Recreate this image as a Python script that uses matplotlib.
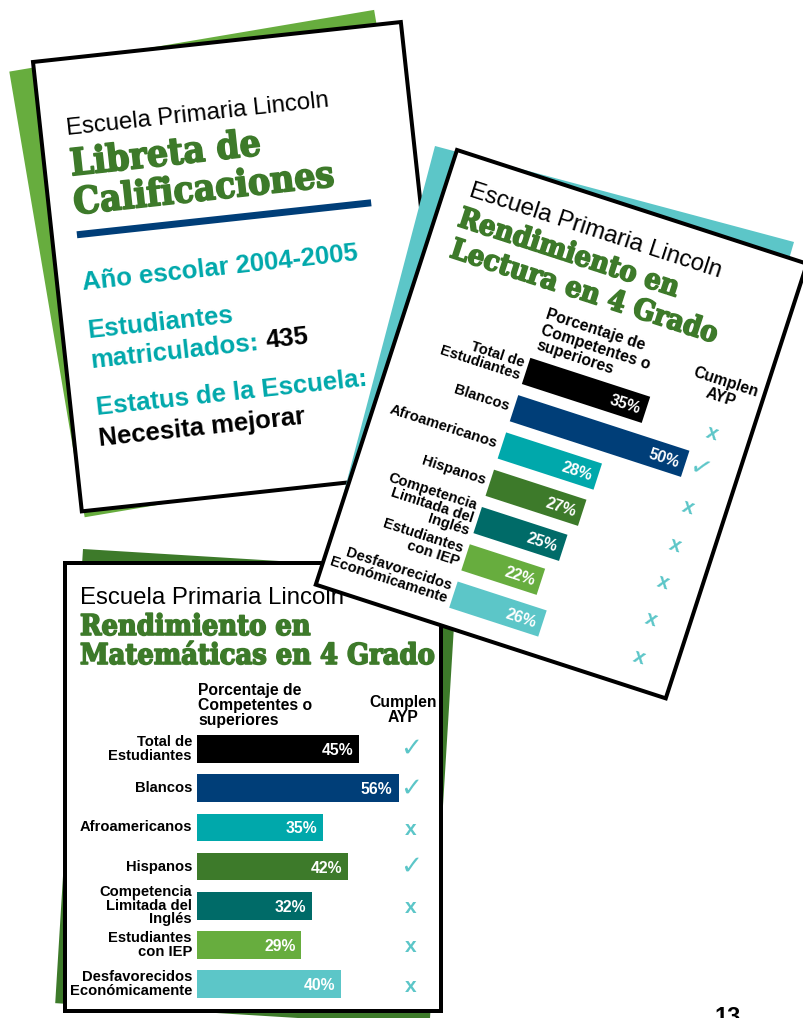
import matplotlib
matplotlib.use("Agg")
import matplotlib.pyplot as plt
import matplotlib.patheffects as pe
from matplotlib.patches import Rectangle, Polygon
from matplotlib.transforms import Affine2D

SANS = "Liberation Sans"
SERIF = "DejaVu Serif"

BLACK = "#000000"
NAVY = "#003e78"
TEAL = "#00a8ab"
DKGREEN = "#3d7a2a"
DKTEAL = "#006b68"
LTGREEN = "#67ad3e"
LTTEAL = "#5cc6c8"

# data
groups = ["Total de\nEstudiantes", "Blancos", "Afroamericanos", "Hispanos",
          "Competencia\nLimitada del\nInglés", "Estudiantes\ncon IEP",
          "Desfavorecidos\nEconómicamente"]
bar_colors = [BLACK, NAVY, TEAL, DKGREEN, DKTEAL, LTGREEN, LTTEAL]
reading_pct = [35, 50, 28, 27, 25, 22, 26]
reading_ayp = [False, True, False, False, False, False, False]
math_pct = [45, 56, 35, 42, 32, 29, 40]
math_ayp = [True, True, False, True, False, False, False]

school = "Escuela Primaria Lincoln"
school_year = "2004-2005"
enrolled = 435
status = "Necesita mejorar"
header = ["Porcentaje de", "Competentes o", "superiores"]
page_number = "13"

PX = 72 / 100  # points per pixel

fig = plt.figure(figsize=(8.04, 10.18), dpi=100)
ax = fig.add_axes([0, 0, 1, 1])
ax.set_xlim(0, 804)
ax.set_ylim(1018, 0)
ax.axis("off")


def card(x0, y0, angle):
    # local card coords (pixels, y down) -> page coords
    return Affine2D().rotate_deg(angle).translate(x0, y0)


def sheet(tf, w, h, color, z, border=True):
    ax.add_patch(Rectangle((0, 0), w, h, transform=tf + ax.transData,
                           facecolor=color, edgecolor="black" if border else "none",
                           linewidth=4 * PX if border else 0, joinstyle="miter", zorder=z))


def put(tf, angle, u, v, s, z, **kw):
    x, y = tf.transform((u, v))
    kw.setdefault("va", "baseline")
    kw.setdefault("ha", "left")
    kw.setdefault("family", SANS)
    ax.text(x, y, s, rotation=-angle, rotation_mode="anchor", zorder=z, **kw)


def title(tf, angle, u, v, s, z, size):
    # condensed DejaVu Serif Bold + a thin stroke, close to the heavy slab face
    put(tf, angle, u, v, s, z, family=SERIF, fontweight="bold", fontstretch="condensed",
        fontsize=size, color=DKGREEN,
        path_effects=[pe.withStroke(linewidth=1.2, foreground=DKGREEN)])


def chart(tf, angle, lay, pct, ayp, z):
    put(tf, angle, lay["school"][0], lay["school"][1], school, z, fontsize=17.3)
    for (u, v), s in zip(lay["title"], lay["title_txt"]):
        title(tf, angle, u, v, s, z, 20.7)
    for v, s in zip(lay["head_v"], header):
        put(tf, angle, lay["head_u"], v, s, z, fontsize=11.3, fontweight="bold")
    for v, s in zip(lay["ayp_v"], ["Cumplen", "AYP"]):
        put(tf, angle, lay["ayp_hu"], v, s, z, ha="center", fontsize=11.3, fontweight="bold")

    bar_tf = Affine2D().scale(3.6, 39.2).translate(lay["bar_u"], lay["bar_v"])
    rows = list(range(len(pct)))
    ax.barh(rows, pct, height=27.5 / 39.2, color=bar_colors,
            transform=bar_tf + tf + ax.transData, zorder=z)
    for i, (p, ok) in enumerate(zip(pct, ayp)):
        u, v = bar_tf.transform((p, i))
        put(tf, angle, u - 6, v, f"{p}%", z + 1, ha="right", va="center_baseline",
            color="white", fontsize=11.3, fontweight="bold")
        lu, lv = bar_tf.transform((0, i))
        put(tf, angle, lu - 5, lv, groups[i], z + 1, ha="right", va="center",
            fontsize=10.6, fontweight="bold", linespacing=0.95)
        if ok:
            put(tf, angle, lay["ayp_u"], lv, "\u2713", z + 1, ha="center", va="center",
                family="DejaVu Sans", fontsize=19, color=LTTEAL)
        else:
            put(tf, angle, lay["ayp_u"], lv, "x", z + 1, ha="center", va="center_baseline",
                fontsize=15, fontweight="bold", color=LTTEAL)


# --- report card (top left) ---
A_TL = -6.2
tf_tl = card(33, 62, A_TL)
sheet(card(9.3, 71.6, -9.6), 370, 452, LTGREEN, 1, border=False)
sheet(tf_tl, 370, 452, "white", 2)
put(tf_tl, A_TL, 25.5, 76, school, 3, fontsize=17.3)
title(tf_tl, A_TL, 26, 117, "Libreta de", 3, 26.7)
title(tf_tl, A_TL, 25, 156, "Calificaciones", 3, 26.7)
ax.plot([25, 321], [176.5, 176.5], color=NAVY, linewidth=7 * PX, solid_capstyle="butt",
        transform=tf_tl + ax.transData, zorder=3)
bold_teal = dict(fontsize=18.5, fontweight="bold", color=TEAL)
put(tf_tl, A_TL, 25, 232.5, f"Año escolar {school_year}", 3, **bold_teal)
put(tf_tl, A_TL, 25, 280, "Estudiantes", 3, **bold_teal)
put(tf_tl, A_TL, 25, 310.5, "matriculados:", 3, **bold_teal)
put(tf_tl, A_TL, 201, 310, str(enrolled), 3, fontsize=18.5, fontweight="bold", color=BLACK)
put(tf_tl, A_TL, 25, 358, "Estatus de la Escuela:", 3, **bold_teal)
put(tf_tl, A_TL, 25, 389, status, 3, fontsize=18.5, fontweight="bold", color=BLACK)

# --- math card (bottom left) ---
tf_m = card(65, 563, 0)
sheet(card(83, 549, 3.5), 375, 455, DKGREEN, 4, border=False)
sheet(tf_m, 376, 448, "white", 5)
chart(tf_m, 0, dict(school=(15, 41), title=[(15, 72), (15, 101)],
                    title_txt=["Rendimiento en", "Matemáticas en 4 Grado"],
                    head_u=133, head_v=[132, 147, 162], ayp_hu=338, ayp_v=[144, 159],
                    bar_u=132, bar_v=186, ayp_u=346),
      math_pct, math_ayp, 6)

# --- reading card (top right) ---
A_RD = 18
tf_rd = card(457, 150, A_RD)
# teal backing sheet, only its top and left edges peek out
ax.add_patch(Polygon([(435, 146), (794, 242), (690, 600), (334, 530)],
                     facecolor=LTTEAL, edgecolor="none", zorder=8))
sheet(tf_rd, 368, 457, "white", 9)
chart(tf_rd, A_RD, dict(school=(25, 40), title=[(23, 72), (25, 104)],
                        title_txt=["Rendimiento en", "Lectura en 4 Grado"],
                        head_u=136, head_v=[133, 149, 165], ayp_hu=327, ayp_v=[142, 158],
                        bar_u=134, bar_v=188.75, ayp_u=330),
      reading_pct, reading_ayp, 10)

ax.text(728, 1006, page_number, ha="center", va="top", fontsize=17, fontweight="bold",
        family=SANS, zorder=12)

ax.set_xlim(0, 804)
ax.set_ylim(1018, 0)
fig.savefig("out.png", dpi=100)
